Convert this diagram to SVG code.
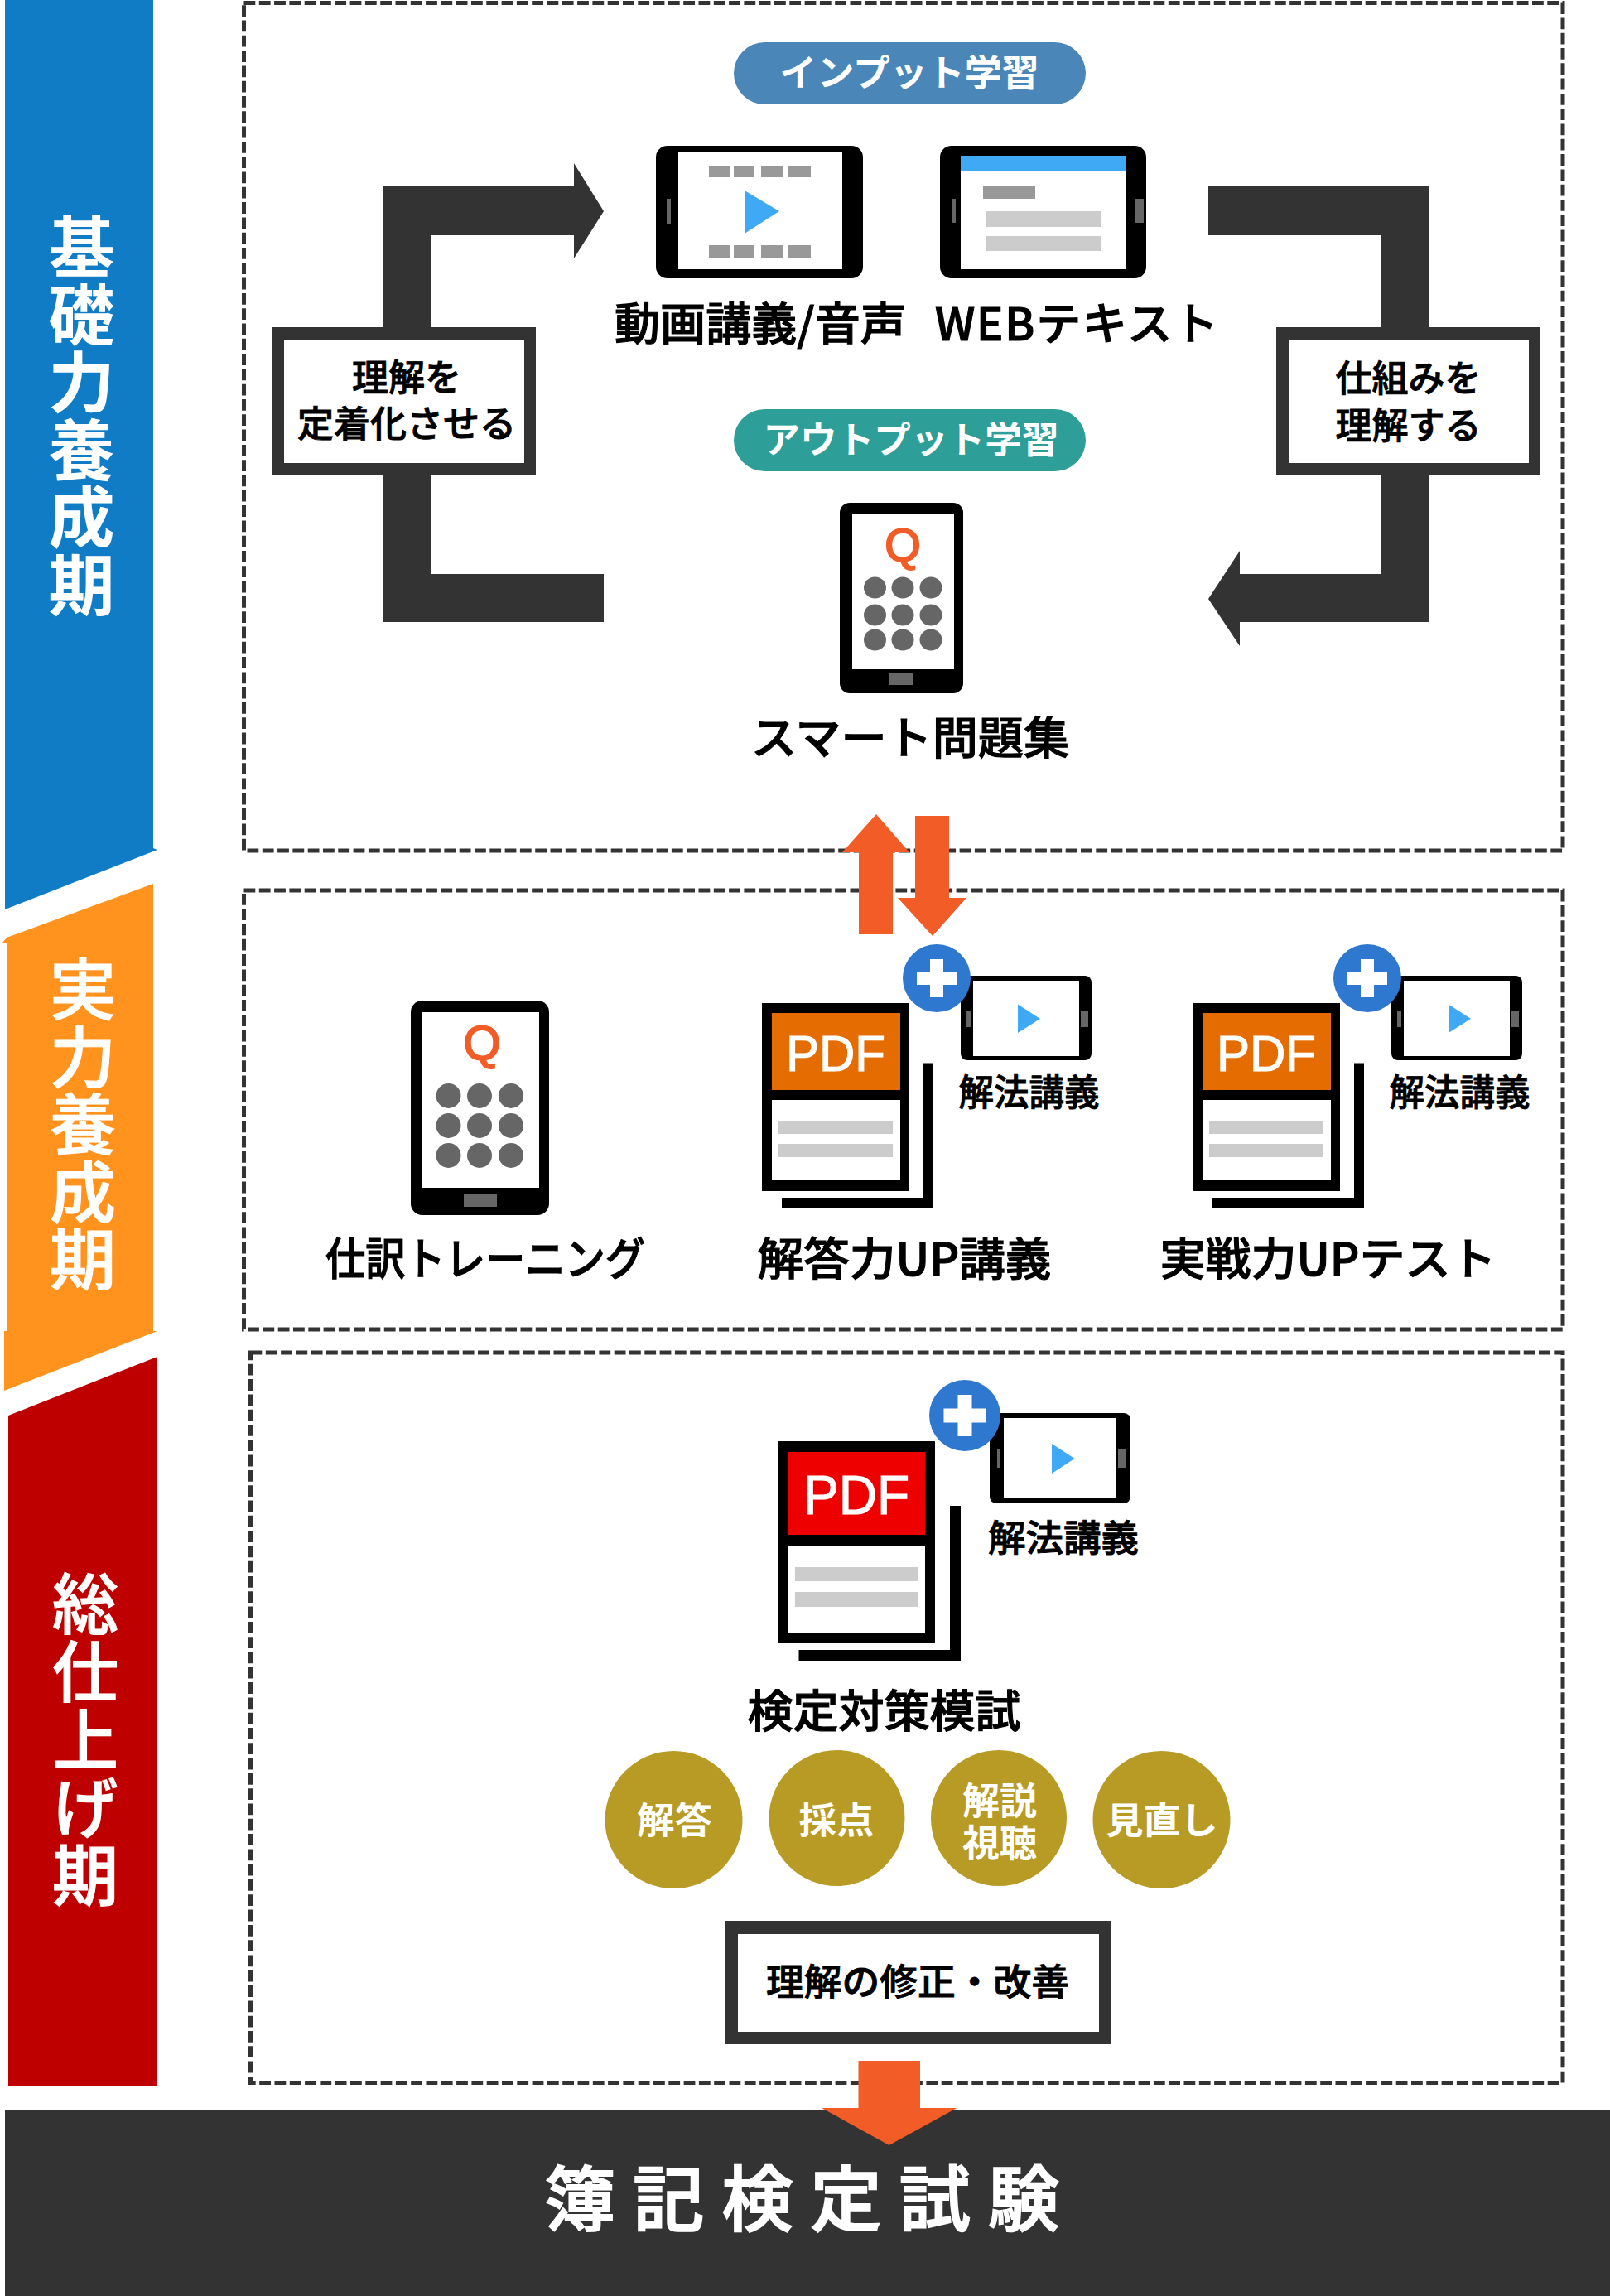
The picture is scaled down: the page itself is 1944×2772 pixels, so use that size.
<svg xmlns="http://www.w3.org/2000/svg" width="1944" height="2772" viewBox="0 0 1944 2772">
<style>
text{font-family:"Noto Sans CJK JP","Noto Sans",sans-serif;dominant-baseline:central;text-anchor:middle}
.dash{fill:none;stroke:#333;stroke-width:5;stroke-dasharray:13.800 4.500}
.band{fill:#fff;font-size:80px;font-weight:700;writing-mode:vertical-rl;text-anchor:start;dominant-baseline:auto}
.lbl{fill:#000;stroke:#000;stroke-width:1.100;font-size:54px;font-weight:500}
.lbs{fill:#000;stroke:#000;stroke-width:.9;font-size:44px;font-weight:500}
.pill{fill:#fff;font-size:44px;font-weight:700}
.gold{fill:#b89b25}
.wt{fill:#fff;font-size:44px;font-weight:700}
.pdf{fill:#fff;stroke:#fff;stroke-width:1.200;font-family:"Liberation Sans",sans-serif}
.dk{fill:#333}.bk{fill:#000}.wh{fill:#fff}.gy{fill:#666}.g1{fill:#999}.g2{fill:#ccc}.pl{fill:#3fa9f5}.or{fill:#f25c27}.bl{fill:#2f78d0}
.q{fill:#f25c27;stroke:#f25c27;stroke-width:2;font-family:"Liberation Sans",sans-serif;font-weight:400}
</style>
<rect width="1944" height="2772" fill="#fff"/>
<g id="band-1"><polygon points="6,0 185,0 185,1024 190,1026 6,1098" fill="#117cc6"/><text class="band" x="98.500" y="258" style="letter-spacing:1.500px">基礎力養成期</text></g>
<g id="band-2"><polygon points="185,1067 185,1607 190,1607 5,1679 5,1607 8,1607 8,1138 3,1138 8,1132" fill="#ff931e"/><text class="band" x="100" y="1154" style="letter-spacing:1.500px;font-weight:500;stroke:#fff;stroke-width:1.200">実力養成期</text></g>
<g id="band-3"><polygon points="190,1638 190,2518 10,2518 10,1709" fill="#bf0000"/><text class="band" x="103" y="1896" style="letter-spacing:2px;font-weight:500;stroke:#fff;stroke-width:1.200">総仕上げ期</text></g>
<g id="frames">
<rect class="dash" x="294.500" y="3.500" width="1592.500" height="1023.500"/>
<rect class="dash" x="294.500" y="1075" width="1592.500" height="530"/>
<rect class="dash" x="302.500" y="1633" width="1584.500" height="881.500"/>
</g>
<g id="connectors">
<polygon class="dk" points="462,395 462,225 693,225 693,197 729,255 693,312 693,284 521,284 521,395"/>
<polygon class="dk" points="462,574 462,751 729,751 729,693 521,693 521,574"/>
<polygon class="dk" points="1459,225 1726,225 1726,395 1667,395 1667,284 1459,284"/>
<polygon class="dk" points="1726,574 1726,751 1497,751 1497,780 1459,723 1497,665 1497,693 1667,693 1667,574"/>
<polygon class="or" points="1037,1128 1037,1029 1017,1029 1058,983 1098,1029 1078,1029 1078,1128"/>
<polygon class="or" points="1105,985 1146,985 1146,1084 1167,1084 1126,1130 1084,1084 1105,1084"/>
</g>
<g id="box-left"><rect class="dk" x="328" y="395" width="319" height="179"/><rect class="wh" x="343" y="411" width="290" height="148"/><text class="lbs"><tspan x="491" y="453">理解を</tspan><tspan x="491" y="509">定着化させる</tspan></text></g>
<g id="box-right"><rect class="dk" x="1541" y="395" width="319" height="179"/><rect class="wh" x="1556" y="411" width="290" height="148"/><text class="lbs"><tspan x="1700.500" y="454">仕組みを</tspan><tspan x="1700.500" y="511">理解する</tspan></text></g>
<g id="pill-input"><rect x="886" y="51" width="425" height="75" rx="37.500" fill="#4a86b8"/><text class="pill" x="1098" y="85" textLength="313" lengthAdjust="spacingAndGlyphs">インプット学習</text></g>
<g id="pill-output"><rect x="886" y="494" width="425" height="75" rx="37.500" fill="#2e9f98"/><text class="pill" x="1100" y="528" textLength="357" lengthAdjust="spacingAndGlyphs">アウトプット学習</text></g>
<g id="video">
<rect class="bk" x="792" y="176" width="250" height="160" rx="14"/><rect class="wh" x="819" y="183" width="198" height="142"/><rect class="gy" x="805" y="240" width="5" height="30"/>
<path class="g1" d="M856 200h26v14h-26zM886 200h25v14h-25zM919 200h27v14h-27zM952 200h27v14h-27zM856 296h26v15h-26zM886 296h25v15h-25zM919 296h27v15h-27zM952 296h27v15h-27z"/>
<polygon class="pl" points="899,230 941,255 899,282"/>
<text class="lbl" x="918" y="387" textLength="352" lengthAdjust="spacingAndGlyphs">動画講義/音声</text>
</g>
<g id="webtext">
<rect class="bk" x="1135" y="176" width="249" height="160" rx="14"/><rect class="wh" x="1160" y="188" width="199" height="137"/><rect class="pl" x="1160" y="188" width="199" height="19"/>
<rect class="g1" x="1187" y="225" width="63" height="15"/><rect class="g2" x="1190" y="255" width="139" height="19"/><rect class="g2" x="1190" y="285" width="139" height="18"/>
<rect class="gy" x="1150" y="240" width="4" height="29"/><rect class="gy" x="1370" y="240" width="11" height="29"/>
<text class="lbl" x="1300" y="387" textLength="342" lengthAdjust="spacing">WEBテキスト</text>
</g>
<g id="smart">
<rect class="bk" x="1014" y="607" width="149" height="230" rx="12"/><rect class="wh" x="1029" y="621" width="123" height="187"/><rect class="gy" x="1074" y="812" width="29" height="15"/>
<text class="q" x="1090" y="657" font-size="56">Q</text>
<g class="gy"><ellipse cx="1056.500" cy="709.500" rx="13.500" ry="13"/><ellipse cx="1090" cy="709.500" rx="13.500" ry="13"/><ellipse cx="1124" cy="709.500" rx="13.500" ry="13"/><ellipse cx="1056.500" cy="742.500" rx="13.500" ry="13"/><ellipse cx="1090" cy="742.500" rx="13.500" ry="13"/><ellipse cx="1124" cy="742.500" rx="13.500" ry="13"/><ellipse cx="1056.500" cy="772.500" rx="13.500" ry="13"/><ellipse cx="1090" cy="772.500" rx="13.500" ry="13"/><ellipse cx="1124" cy="772.500" rx="13.500" ry="13"/></g>
<text class="lbl" x="1099" y="887" textLength="384" lengthAdjust="spacingAndGlyphs">スマート問題集</text>
</g>
<g id="shiwake">
<rect class="bk" x="496" y="1208" width="167" height="259" rx="14"/><rect class="wh" x="509" y="1222" width="142" height="212"/><rect class="gy" x="560" y="1441" width="40" height="16"/>
<text class="q" x="582" y="1258" font-size="58">Q</text>
<g class="gy"><circle cx="541.500" cy="1323" r="15"/><circle cx="579" cy="1323" r="15"/><circle cx="617" cy="1323" r="15"/><circle cx="541.500" cy="1359" r="15"/><circle cx="579" cy="1359" r="15"/><circle cx="617" cy="1359" r="15"/><circle cx="541.500" cy="1395" r="15"/><circle cx="579" cy="1395" r="15"/><circle cx="617" cy="1395" r="15"/></g>
<text class="lbl" x="586" y="1516" textLength="386" lengthAdjust="spacingAndGlyphs">仕訳トレーニング</text>
</g>
<g id="kaito">
<path class="bk" d="M1115 1283.500h12V1458H944v-12h171z"/><rect class="bk" x="920" y="1211" width="178" height="227"/><rect x="932" y="1223" width="155" height="93" fill="#e46c00"/><rect class="wh" x="932" y="1328" width="155" height="97"/><rect class="g2" x="940" y="1353" width="138" height="16"/><rect class="g2" x="940" y="1381" width="138" height="16"/>
<text class="pdf" x="1009" y="1271" font-size="62" textLength="120" lengthAdjust="spacingAndGlyphs">PDF</text>
<rect class="bk" x="1160" y="1178" width="158" height="102" rx="8"/><rect class="wh" x="1175" y="1184" width="128" height="91"/><rect class="gy" x="1167" y="1220" width="5" height="20"/><rect class="gy" x="1305" y="1220" width="9" height="20"/><polygon class="pl" points="1229,1212.500 1256,1230 1229,1247"/>
<circle class="bl" cx="1131" cy="1181" r="41"/><path class="wh" d="M1123 1158h16v15h16v16h-16v15h-16v-15h-16v-16h16z"/>
<text class="lbs" x="1242.500" y="1316" textLength="170" lengthAdjust="spacingAndGlyphs">解法講義</text>
<text class="lbl" x="1092" y="1516" textLength="355" lengthAdjust="spacingAndGlyphs">解答力UP講義</text>
</g>
<g id="jissen">
<path class="bk" d="M1635 1283.500h12V1458H1464v-12h171z"/><rect class="bk" x="1440" y="1211" width="178" height="227"/><rect x="1452" y="1223" width="155" height="93" fill="#e46c00"/><rect class="wh" x="1452" y="1328" width="155" height="97"/><rect class="g2" x="1460" y="1353" width="138" height="16"/><rect class="g2" x="1460" y="1381" width="138" height="16"/>
<text class="pdf" x="1529" y="1271" font-size="62" textLength="120" lengthAdjust="spacingAndGlyphs">PDF</text>
<rect class="bk" x="1680" y="1178" width="158" height="102" rx="8"/><rect class="wh" x="1695" y="1184" width="128" height="91"/><rect class="gy" x="1687" y="1220" width="5" height="20"/><rect class="gy" x="1825" y="1220" width="9" height="20"/><polygon class="pl" points="1749,1212.500 1776,1230 1749,1247"/>
<circle class="bl" cx="1651" cy="1181" r="41"/><path class="wh" d="M1643 1158h16v15h16v16h-16v15h-16v-15h-16v-16h16z"/>
<text class="lbs" x="1762.500" y="1316" textLength="170" lengthAdjust="spacingAndGlyphs">解法講義</text>
<text class="lbl" x="1603.500" y="1516" textLength="406" lengthAdjust="spacingAndGlyphs">実戦力UPテスト</text>
</g>
<g id="moshi">
<path class="bk" d="M1147 1818h13V2005H964.500v-13H1147z"/><rect class="bk" x="939" y="1740" width="190" height="244"/><rect x="952" y="1753" width="165" height="100" fill="#ee0000"/><rect class="wh" x="952" y="1866" width="165" height="105"/><rect class="g2" x="960" y="1892" width="148" height="17"/><rect class="g2" x="960" y="1922" width="148" height="18"/>
<text class="pdf" x="1034" y="1805" font-size="66" textLength="128" lengthAdjust="spacingAndGlyphs">PDF</text>
<rect class="bk" x="1195" y="1706" width="170" height="109" rx="8"/><rect class="wh" x="1212" y="1712" width="136" height="97"/><rect class="gy" x="1204" y="1750" width="4" height="22"/><rect class="gy" x="1350" y="1750" width="10" height="22"/><polygon class="pl" points="1270,1743 1297.500,1761 1270,1779"/>
<circle class="bl" cx="1165" cy="1709" r="43"/><path class="wh" d="M1156.500 1684h17v16.500h17v17h-17v16.500h-17v-16.500h-17v-17h17z"/>
<text class="lbs" x="1284" y="1854" textLength="182" lengthAdjust="spacingAndGlyphs">解法講義</text>
<text class="lbl" x="1067.500" y="2062" textLength="330" lengthAdjust="spacingAndGlyphs">検定対策模試</text>
</g>
<g id="step-1"><circle class="gold" cx="813.500" cy="2197" r="83"/><text class="wt" x="814.500" y="2195" textLength="91" lengthAdjust="spacingAndGlyphs">解答</text></g>
<g id="step-2"><circle class="gold" cx="1010.500" cy="2195" r="82"/><text class="wt" x="1010" y="2195" textLength="91" lengthAdjust="spacingAndGlyphs">採点</text></g>
<g id="step-3"><circle class="gold" cx="1206" cy="2195" r="82"/><text class="wt" style="font-size:45px"><tspan x="1207" y="2171">解説</tspan><tspan x="1207" y="2222">視聴</tspan></text></g>
<g id="step-4"><circle class="gold" cx="1402.500" cy="2197" r="83"/><text class="wt" x="1403" y="2195" textLength="135" lengthAdjust="spacingAndGlyphs">見直し</text></g>
<g id="result"><rect class="dk" x="876" y="2319" width="465" height="149"/><rect class="wh" x="891" y="2335" width="436" height="118"/><text class="lbs" x="1108" y="2390" textLength="366" lengthAdjust="spacingAndGlyphs">理解の修正・改善</text></g>
<g id="exam"><rect class="dk" x="6" y="2548" width="1938" height="224"/><text x="968" y="2649" font-size="86" font-weight="500" fill="#fff" stroke="#fff" stroke-width="2" textLength="622" lengthAdjust="spacing">簿記検定試験</text></g>
<polygon class="or" points="1036.500,2488 1111,2488 1111,2545 1155.500,2545 1073.500,2590 992,2545 1036.500,2545"/>
</svg>
